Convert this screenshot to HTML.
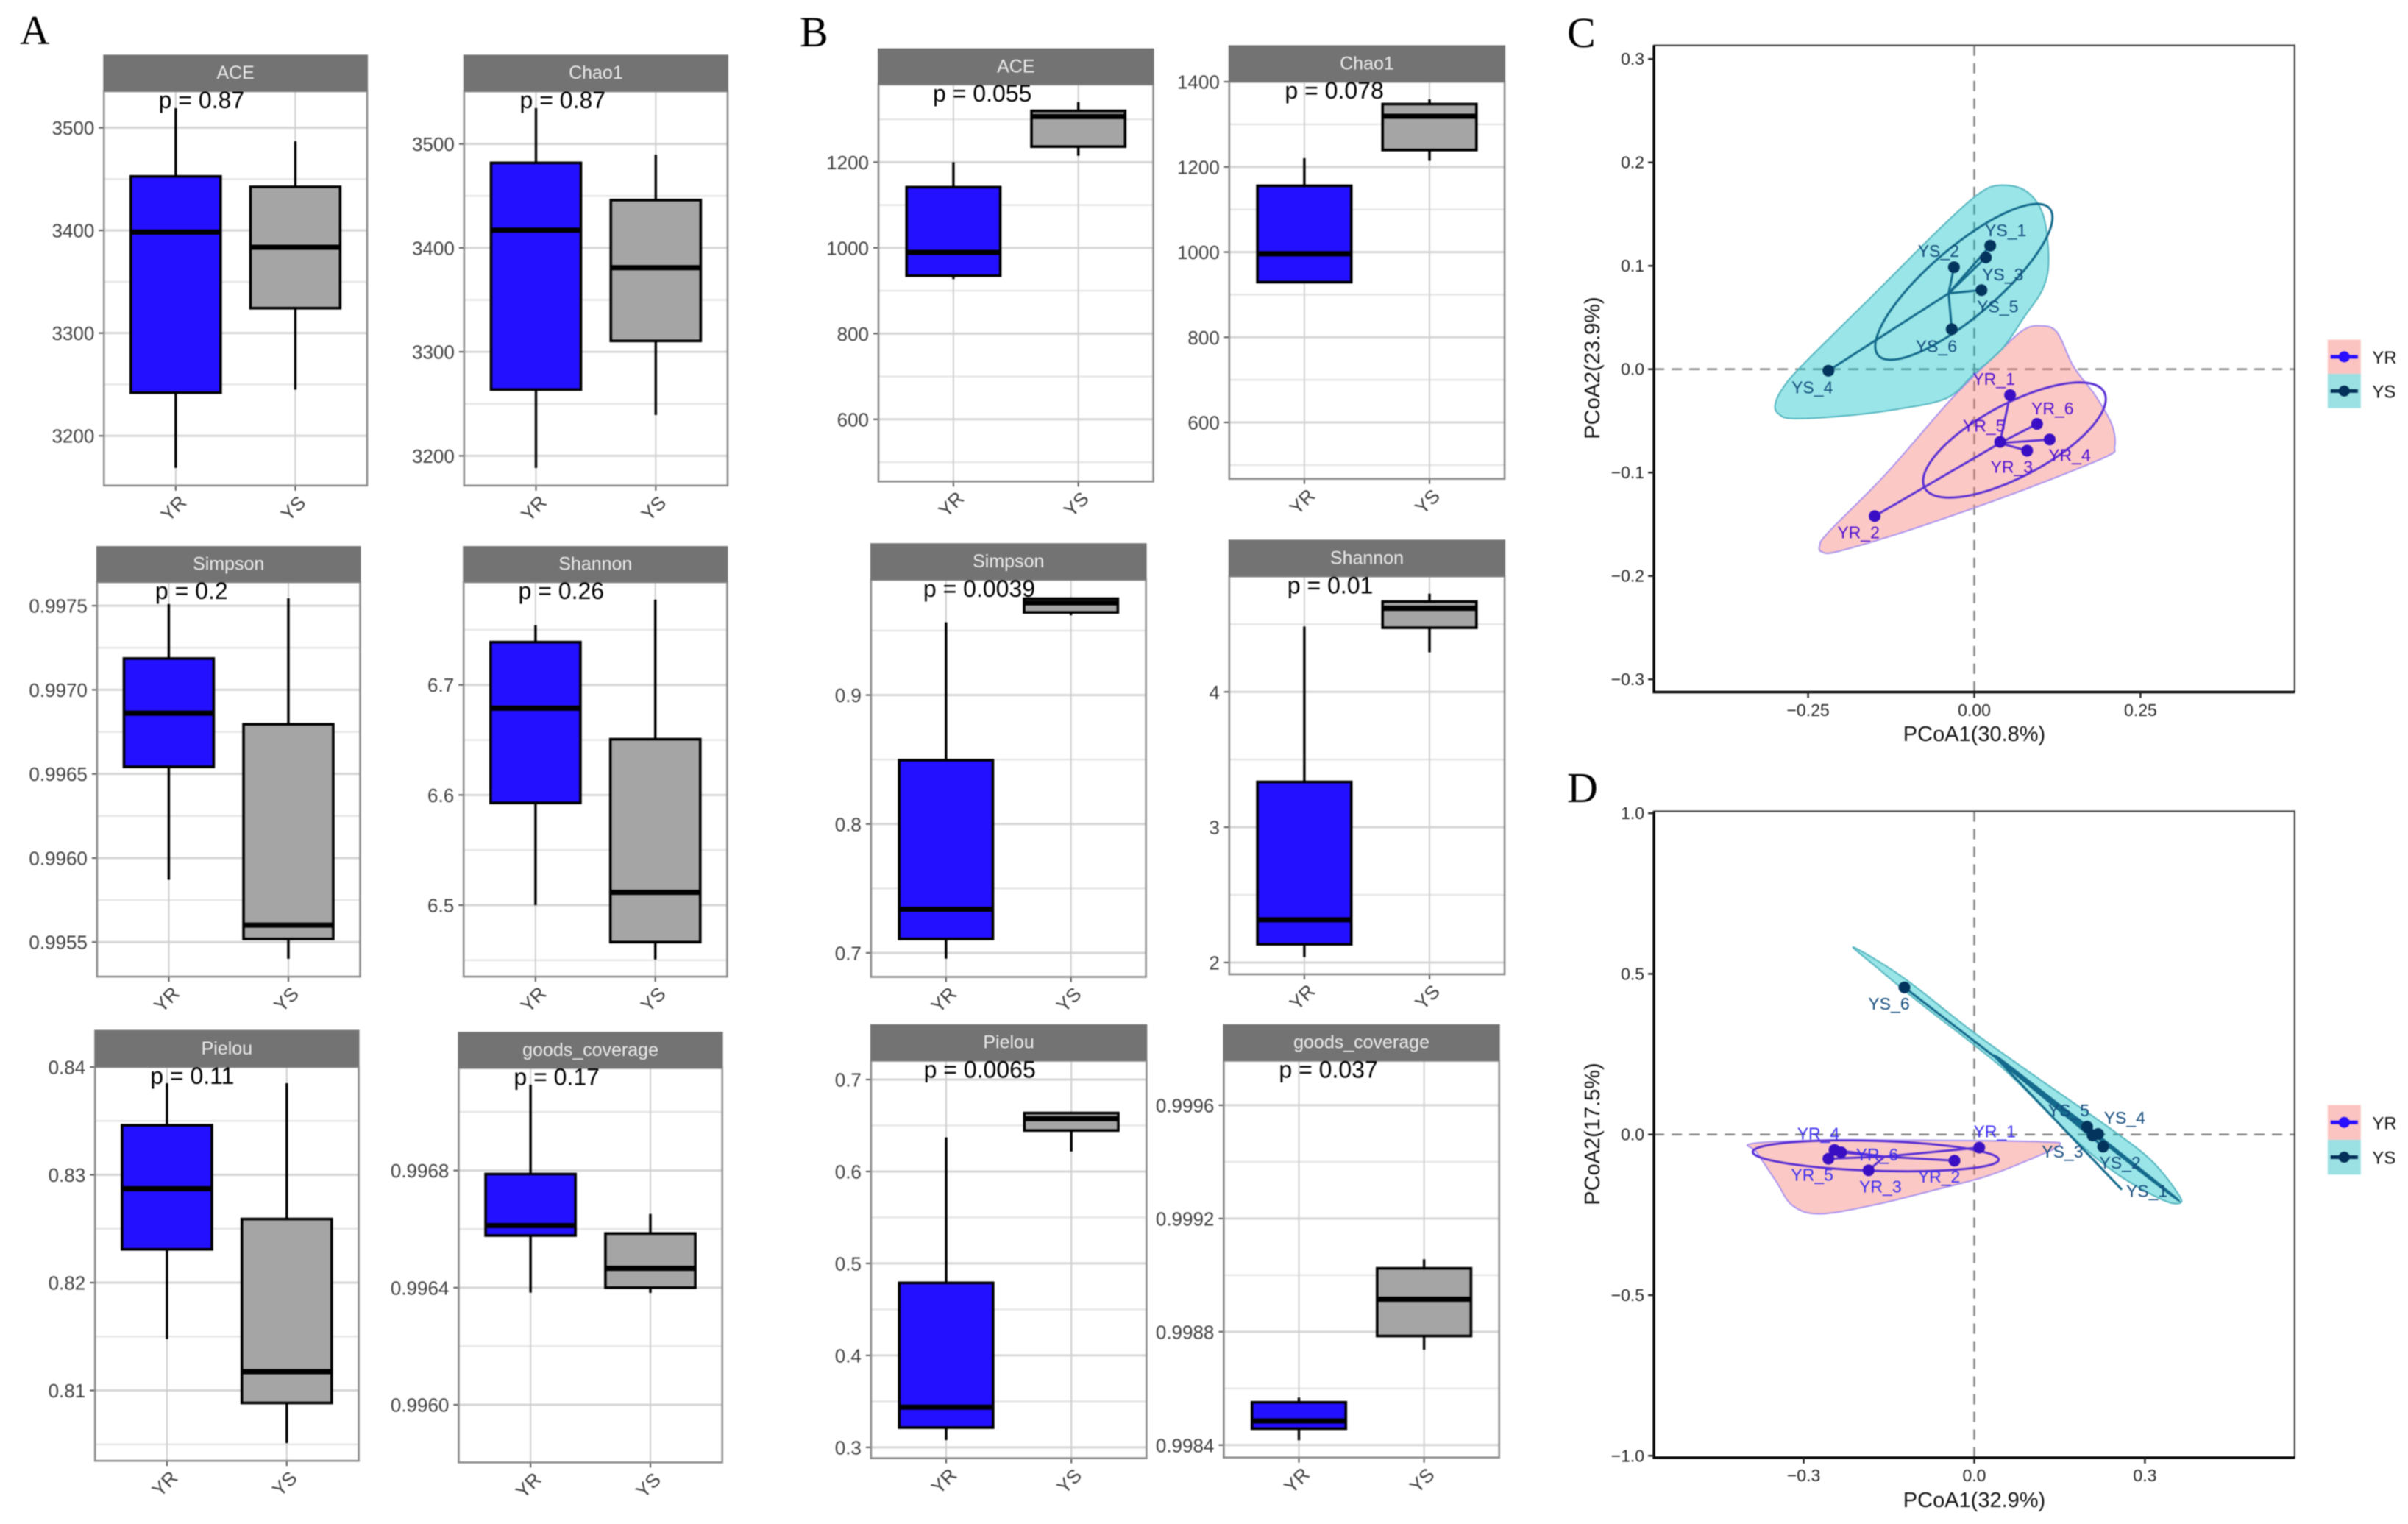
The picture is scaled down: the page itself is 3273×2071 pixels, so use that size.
<!DOCTYPE html>
<html lang="en">
<head>
<meta charset="utf-8">
<title>Alpha diversity boxplots and PCoA ordinations</title>
<style>
html,body{margin:0;padding:0;background:#fff;}
#figure{display:block;width:3273px;height:2071px;font-family:"Liberation Sans",sans-serif;filter:blur(0.7px);}
</style>
</head>
<body>
<svg id="figure" xmlns="http://www.w3.org/2000/svg" width="3273" height="2071" viewBox="0 0 3273 2071">
  <rect x="0" y="0" width="3273" height="2071" fill="#ffffff"/>
  <text x="27" y="60" font-family="'Liberation Serif',serif" font-size="56" fill="#000">A</text>
  <text x="1087" y="63" font-family="'Liberation Serif',serif" font-size="58" fill="#000">B</text>
  <text x="2130" y="64" font-family="'Liberation Serif',serif" font-size="58" fill="#000">C</text>
  <text x="2130" y="1090" font-family="'Liberation Serif',serif" font-size="58" fill="#000">D</text>
</svg>
<script>
/* ---------- Boxplot data (12 facets: A then B; ACE, Chao1, Simpson, Shannon, Pielou, goods_coverage) ---------- */
const boxCategories = ['YR', 'YS'];
const metricNames = ['ACE','Chao1','Simpson','Shannon','Pielou','goods_coverage','ACE','Chao1','Simpson','Shannon','Pielou','goods_coverage'];
const pValues = ['0.87','0.87','0.2','0.26','0.11','0.17','0.055','0.078','0.0039','0.01','0.0065','0.037'];
const yrLow = [3168.8,3188.3,0.995871,6.5,0.81476,0.996383,927.2,929.4,0.69554,2.04,0.30787,0.998417];
const yrQ1 = [3242,3263.7,0.996542,6.5928,0.82309,0.996578,935.1,929.4,0.71089,2.1344,0.32147,0.998458];
const yrMedian = [3398.4,3417.1,0.996861,6.6788,0.82871,0.996612,989.5,996,0.73391,2.316,0.34365,0.998485];
const yrQ3 = [3452.6,3481.8,0.997186,6.7388,0.8346,0.996788,1141.7,1155.6,0.84951,3.3349,0.47889,0.998551];
const yrHigh = [3519,3534.5,0.99751,6.7542,0.8385,0.997093,1200,1220.6,0.95644,4.4835,0.63703,0.998568];
const ysLow = [3245,3239.3,0.995401,6.4507,0.80512,0.996382,1215,1214.3,0.96188,4.2925,0.62165,0.998737];
const ysQ1 = [3324.3,3310.5,0.995519,6.4664,0.80884,0.9964,1236.3,1239.7,0.96411,4.4741,0.64454,0.998785];
const ysMedian = [3383.6,3381,0.995601,6.5116,0.81174,0.996466,1306.4,1319,0.97153,4.6179,0.65742,0.998915];
const ysQ3 = [3442.4,3446,0.996795,6.6507,0.8259,0.996585,1319.8,1347.6,0.97475,4.6675,0.66351,0.999024];
const ysHigh = [3486.8,3489.6,0.997544,6.7774,0.8385,0.996652,1340.3,1358.7,0.97574,4.7264,0.66386,0.999056];
const yDomainLow = [3151.6,3171.4,0.995295,6.4351,0.80347,0.995803,454.9,467.5,0.68144,1.9127,0.2882,0.998356];
const yDomainHigh = [3535.5,3550.7,0.99764,6.7933,0.84,0.99715,1381.3,1400,0.98936,4.8538,0.7204,0.999757];
const yTickLabels = [
  ['3200','3300','3400','3500'],
  ['3200','3300','3400','3500'],
  ['0.9955','0.9960','0.9965','0.9970','0.9975'],
  ['6.5','6.6','6.7'],
  ['0.81','0.82','0.83','0.84'],
  ['0.9960','0.9964','0.9968'],
  ['600','800','1000','1200'],
  ['600','800','1000','1200','1400'],
  ['0.7','0.8','0.9'],
  ['2','3','4'],
  ['0.3','0.4','0.5','0.6','0.7'],
  ['0.9984','0.9988','0.9992','0.9996']
];

/* ---------- PCoA C data ---------- */
const cYrNames = ['YR_1','YR_2','YR_3','YR_4','YR_5','YR_6'];
const cYrX = [0.0538,-0.1498,0.0795,0.1134,0.0389,0.0944];
const cYrY = [-0.025,-0.1421,-0.0788,-0.068,-0.0703,-0.0529];
const cYsNames = ['YS_1','YS_2','YS_3','YS_4','YS_5','YS_6'];
const cYsX = [0.024,-0.0306,0.0174,-0.2194,0.0108,-0.0339];
const cYsY = [0.1195,0.0987,0.1081,-0.0014,0.0765,0.0387];
const cYrCentroid = [0.0384,-0.0715];
const cYsCentroid = [-0.0386,0.0734];
const cYrEllipse = [0.0604,-0.0685,0.1374,0.0397,0,0.0391];
const cYsEllipse = [-0.0157,0.0845,0.1333,0.0623,0,0.0425];
const cYrHull = [[-0.2326,-0.1709],[-0.2194,-0.1577],[-0.1325,-0.101],[-0.0331,-0.0279],[0.0414,0.0194],[0.0745,0.0382],[0.0993,0.042],[0.1242,0.0359],[0.149,0.0028],[0.1821,-0.0255],[0.207,-0.0538],[0.2111,-0.0751],[0.1987,-0.0845],[0.0993,-0.1105],[0,-0.1341],[-0.1076,-0.1577],[-0.207,-0.1766],[-0.2293,-0.1766]];
const cYsHull = [[-0.2997,-0.0349],[-0.2881,-0.0184],[-0.2566,0.0052],[-0.149,0.0737],[-0.0497,0.1374],[0.0083,0.1704],[0.0414,0.178],[0.0786,0.1719],[0.1035,0.1492],[0.1118,0.1067],[0.1035,0.0784],[0.0745,0.05],[0.0414,0.0194],[0,-0.0042],[-0.0414,-0.0279],[-0.1159,-0.0387],[-0.1987,-0.0453],[-0.2732,-0.0477],[-0.2939,-0.0434]];
const cXTicks = [-0.25,0,0.25];
const cXTickLabels = ['\u22120.25','0.00','0.25'];
const cYTicks = [-0.3,-0.2,-0.1,0,0.1,0.2,0.3];
const cYTickLabels = ['\u22120.3','\u22120.2','\u22120.1','0.0','0.1','0.2','0.3'];

/* ---------- PCoA D data ---------- */
const dYrNames = ['YR_1','YR_2','YR_3','YR_4','YR_5','YR_6'];
const dYrX = [0.0087,-0.0348,-0.1858,-0.2458,-0.2565,-0.2342];
const dYrY = [-0.0407,-0.0813,-0.1114,-0.0482,-0.0753,-0.0557];
const dYsNames = ['YS_1','YS_2','YS_3','YS_4','YS_5','YS_6'];
const dYsX = [0.2594,0.2265,0.2081,0.2177,0.1984,-0.1229];
const dYsY = [-0.1717,-0.0377,-0.003,0.0015,0.0241,0.4578];
const dYsDotVisible = [0,1,1,1,1,1];
const dYrCentroid = [-0.158,-0.0688];
const dYsCentroid = [0.0387,0.238];
const dYrEllipse = [-0.1732,-0.0663,0.2163,-0.012,0,0.0467];
const dYsEllipse = [0.1984,0.0196,0.1597,-0.2229,-0.0077,0.0151];
const dYrHull = [[-0.3919,-0.0286],[-0.271,-0.0181],[-0.0774,-0.0181],[0.1161,-0.0226],[0.15,-0.0331],[0.0968,-0.0783],[0.0194,-0.131],[-0.0774,-0.1762],[-0.1742,-0.2184],[-0.271,-0.247],[-0.3194,-0.2214],[-0.3484,-0.1461],[-0.3823,-0.0557]];
const dYsHull = [[-0.2119,0.5828],[-0.1258,0.4895],[0,0.3163],[0.1161,0.1702],[0.2323,0.0271],[0.3097,-0.0783],[0.3581,-0.1837],[0.361,-0.2139],[0.329,-0.2018],[0.2516,-0.1235],[0.1742,-0.0105],[0.0677,0.1777],[0,0.2786],[-0.0968,0.4111],[-0.1742,0.5241]];
const dXTicks = [-0.3,0,0.3];
const dXTickLabels = ['\u22120.3','0.0','0.3'];
const dYTicks = [-1,-0.5,0,0.5,1];
const dYTickLabels = ['\u22121.0','\u22120.5','0.0','0.5','1.0'];

/* ---------- Layout (pixels, separate from the data) ---------- */
const boxLayouts = [
  {l:141.3,r:499,st:74.4,t:124,b:659.8,pdx:74.3,slug:'a-ace'},
  {l:630.8,r:989,st:74.4,t:124,b:659.8,pdx:75.7,slug:'a-chao1'},
  {l:131.9,r:489.5,st:742.1,t:791.1,b:1327.1,pdx:79,slug:'a-simpson'},
  {l:630.2,r:988.4,st:742.1,t:791.1,b:1327.1,pdx:74.3,slug:'a-shannon'},
  {l:129.2,r:487.5,st:1399.5,t:1450,b:1985.2,pdx:75,slug:'a-pielou'},
  {l:623.4,r:981.7,st:1402.2,t:1451.4,b:1987.4,pdx:75,slug:'a-goods-coverage'},
  {l:1194,r:1567.6,st:65.7,t:114.8,b:654.3,pdx:74,slug:'b-ace'},
  {l:1670.8,r:2045.1,st:61.5,t:111.1,b:650.7,pdx:75.6,slug:'b-chao1'},
  {l:1183.9,r:1557.6,st:738.2,t:788,b:1327.5,pdx:71,slug:'b-simpson'},
  {l:1670.8,r:2045.1,st:733.4,t:783.3,b:1324,pdx:79,slug:'b-shannon'},
  {l:1183.9,r:1558.3,st:1391.9,t:1441.5,b:1981.6,pdx:71.7,slug:'b-pielou'},
  {l:1663.4,r:2037.7,st:1391.9,t:1441.5,b:1980.7,pdx:75,slug:'b-goods-coverage'}
];
const SVGNS = 'http://www.w3.org/2000/svg';
const root = document.getElementById('figure');

function mk(tag, attrs, parent, text) {
  const el = document.createElementNS(SVGNS, tag);
  for (const k in attrs) el.setAttribute(k, attrs[k]);
  if (text !== undefined) el.textContent = text;
  parent.appendChild(el);
  return el;
}
function named(el, name) {
  
  
  return el;
}
function linear(d0, d1, r0, r1) {
  return function (v) { return r0 + (v - d0) / (d1 - d0) * (r1 - r0); };
}

/* ---------- Boxplot facets ---------- */
function drawBox(g, slug, cat, x, halfW, yOf, low, q1, med, q3, high, fill) {
  const whisker = mk('path', {d: 'M' + x + ' ' + yOf(high) + 'V' + yOf(q3) + 'M' + x + ' ' + yOf(q1) + 'V' + yOf(low), stroke: '#000', 'stroke-width': 3.4, fill: 'none'}, g);
  named(whisker, slug + '-' + cat + '-whisker');
  const box = mk('rect', {x: x - halfW, y: yOf(q3), width: 2 * halfW, height: yOf(q1) - yOf(q3), fill: fill, stroke: '#000', 'stroke-width': 3.6}, g);
  named(box, slug + '-' + cat + '-box');
  const median = mk('line', {x1: x - halfW, x2: x + halfW, y1: yOf(med), y2: yOf(med), stroke: '#000', 'stroke-width': 7}, g);
  named(median, slug + '-' + cat + '-median');
}

boxLayouts.forEach(function (p, i) {
  const g = mk('g', {}, root);
  named(g, p.slug + '-boxplot');
  const yOf = linear(yDomainLow[i], yDomainHigh[i], p.b, p.t);
  const xOf = linear(0.4, 2.6, p.l, p.r);
  const bg = mk('rect', {x: p.l, y: p.t, width: p.r - p.l, height: p.b - p.t, fill: '#fff'}, g);
  named(bg, p.slug + '-plot-background');

  const labels = yTickLabels[i];
  const vals = labels.map(Number);
  const step = vals[1] - vals[0];
  const minors = [vals[0] - step / 2];
  vals.forEach(function (v) { minors.push(v + step / 2); });
  minors.forEach(function (v) {
    if (v > yDomainLow[i] && v < yDomainHigh[i]) {
      const ln = mk('line', {x1: p.l, x2: p.r, y1: yOf(v), y2: yOf(v), stroke: '#e6e6e6', 'stroke-width': 2.4}, g);
      named(ln, p.slug + '-minor-gridline');
    }
  });
  vals.forEach(function (v, j) {
    const y = yOf(v);
    const ln = mk('line', {x1: p.l, x2: p.r, y1: y, y2: y, stroke: '#d6d6d6', 'stroke-width': 3}, g);
    named(ln, p.slug + '-major-gridline');
    const tk = mk('line', {x1: p.l - 7, x2: p.l, y1: y, y2: y, stroke: '#555', 'stroke-width': 2}, g);
    named(tk, p.slug + '-y-tick');
    const tl = mk('text', {x: p.l - 13, y: y + 9.5, 'text-anchor': 'end', 'font-size': 26, fill: '#404040'}, g, labels[j]);
    named(tl, p.slug + '-y-tick-label');
  });
  boxCategories.forEach(function (c, k) {
    const x = xOf(k + 1);
    const vl = mk('line', {x1: x, x2: x, y1: p.t, y2: p.b, stroke: '#cfcfcf', 'stroke-width': 2}, g);
    named(vl, p.slug + '-vertical-gridline');
    const tk = mk('line', {x1: x, x2: x, y1: p.b, y2: p.b + 7, stroke: '#555', 'stroke-width': 2}, g);
    named(tk, p.slug + '-x-tick');
    const cx = x - 3, cy = p.b + 31;
    const tl = mk('text', {x: cx, y: cy + 9, 'text-anchor': 'middle', 'font-size': 26, fill: '#404040', transform: 'rotate(-45 ' + cx + ' ' + cy + ')'}, g, c);
    named(tl, p.slug + '-x-tick-label');
  });

  const halfW = (p.r - p.l) * 0.75 / 2.2 / 2;
  drawBox(g, p.slug, 'yr', xOf(1), halfW, yOf, yrLow[i], yrQ1[i], yrMedian[i], yrQ3[i], yrHigh[i], '#2310ff');
  drawBox(g, p.slug, 'ys', xOf(2), halfW, yOf, ysLow[i], ysQ1[i], ysMedian[i], ysQ3[i], ysHigh[i], '#a5a5a5');

  const border = mk('rect', {x: p.l, y: p.t, width: p.r - p.l, height: p.b - p.t, fill: 'none', stroke: '#8c8c8c', 'stroke-width': 2.6}, g);
  named(border, p.slug + '-panel-border');
  const strip = mk('rect', {x: p.l - 1, y: p.st, width: p.r - p.l + 2, height: p.t - p.st, fill: '#737373'}, g);
  named(strip, p.slug + '-strip');
  const stripText = mk('text', {x: (p.l + p.r) / 2, y: (p.st + p.t) / 2 + 8, 'text-anchor': 'middle', 'font-size': 25, fill: '#ececec'}, g, metricNames[i]);
  named(stripText, p.slug + '-strip-label');
  const pLabel = mk('text', {x: p.l + p.pdx, y: p.t + 23, 'font-size': 32, fill: '#000'}, g, 'p = ' + pValues[i]);
  named(pLabel, p.slug + '-p-value');
});

/* ---------- PCoA panels ---------- */
function smoothClosed(pts) {
  const n = pts.length;
  let d = 'M' + pts[0][0] + ' ' + pts[0][1];
  for (let i = 0; i < n; i++) {
    const p0 = pts[(i - 1 + n) % n], p1 = pts[i], p2 = pts[(i + 1) % n], p3 = pts[(i + 2) % n];
    d += 'C' + (p1[0] + (p2[0] - p0[0]) / 6) + ' ' + (p1[1] + (p2[1] - p0[1]) / 6) + ' ' +
         (p2[0] - (p3[0] - p1[0]) / 6) + ' ' + (p2[1] - (p3[1] - p1[1]) / 6) + ' ' + p2[0] + ' ' + p2[1];
  }
  return d + 'Z';
}
function ellipsePath(e, xOf, yOf) {
  const pts = [];
  for (let a = 0; a < 96; a++) {
    const t = a / 96 * 2 * Math.PI;
    pts.push(xOf(e[0] + e[2] * Math.cos(t) + e[4] * Math.sin(t)) + ' ' + yOf(e[1] + e[3] * Math.cos(t) + e[5] * Math.sin(t)));
  }
  return 'M' + pts.join('L') + 'Z';
}
function drawGroup(g, slug, hull, ellipse, centroid, xs, ys, names, offsets, xOf, yOf, fill, hullStroke, lineColor, dotColor, textColor, dotVisible) {
  const hullEl = mk('path', {d: smoothClosed(hull.map(function (q) { return [xOf(q[0]), yOf(q[1])]; })), fill: fill, 'fill-opacity': 0.4, stroke: hullStroke, 'stroke-width': 2}, g);
  named(hullEl, slug + '-hull');
  return function () {
    const ell = mk('path', {d: ellipsePath(ellipse, xOf, yOf), fill: 'none', stroke: lineColor, 'stroke-width': 3}, g);
    named(ell, slug + '-ellipse');
    xs.forEach(function (v, i) {
      const seg = mk('line', {x1: xOf(centroid[0]), y1: yOf(centroid[1]), x2: xOf(v), y2: yOf(ys[i]), stroke: lineColor, 'stroke-width': 3}, g);
      named(seg, slug + '-spider-segment');
    });
    xs.forEach(function (v, i) {
      if (!dotVisible || dotVisible[i]) {
        const dot = mk('circle', {cx: xOf(v), cy: yOf(ys[i]), r: 8, fill: dotColor}, g);
        named(dot, slug + '-point');
      }
      const lab = mk('text', {x: xOf(v) + offsets[i][0], y: yOf(ys[i]) + offsets[i][1] + 8, 'text-anchor': 'middle', 'font-size': 23, fill: textColor}, g, names[i]);
      named(lab, slug + '-point-label');
    });
  };
}
function drawPcoa(cfg) {
  const g = mk('g', {}, root);
  named(g, cfg.slug + '-pcoa-plot');
  const xOf = linear(cfg.xMin, cfg.xMax, cfg.l, cfg.r);
  const yOf = linear(cfg.yMin, cfg.yMax, cfg.b, cfg.t);
  const hz = mk('line', {x1: cfg.l, x2: cfg.r, y1: yOf(0), y2: yOf(0), stroke: '#8a8a8a', 'stroke-width': 2.6, 'stroke-dasharray': '14 10'}, g);
  named(hz, cfg.slug + '-zero-line-horizontal');
  const vt = mk('line', {x1: xOf(0), x2: xOf(0), y1: cfg.t, y2: cfg.b, stroke: '#8a8a8a', 'stroke-width': 2.6, 'stroke-dasharray': '14 10'}, g);
  named(vt, cfg.slug + '-zero-line-vertical');

  const finishYr = drawGroup(g, cfg.slug + '-yr', cfg.yrHull, cfg.yrEllipse, cfg.yrCentroid, cfg.yrX, cfg.yrY, cfg.yrNames, cfg.yrOffsets, xOf, yOf, '#F8766D', '#ab92ee', '#5a30d4', '#3a0fc4', cfg.yrText, null);
  const finishYs = drawGroup(g, cfg.slug + '-ys', cfg.ysHull, cfg.ysEllipse, cfg.ysCentroid, cfg.ysX, cfg.ysY, cfg.ysNames, cfg.ysOffsets, xOf, yOf, '#00BFC4', '#55b5bf', '#146a8c', '#03345e', '#114a7c', cfg.ysDots);
  finishYr();
  finishYs();

  const border = mk('rect', {x: cfg.l, y: cfg.t, width: cfg.r - cfg.l, height: cfg.b - cfg.t, fill: 'none', stroke: '#444', 'stroke-width': 2.2}, g);
  named(border, cfg.slug + '-panel-border');
  const axes = mk('path', {d: 'M' + cfg.l + ' ' + cfg.t + 'V' + cfg.b + 'H' + cfg.r, fill: 'none', stroke: '#000', 'stroke-width': 3.4}, g);
  named(axes, cfg.slug + '-axis-lines');

  cfg.xTicks.forEach(function (v, i) {
    const tk = mk('line', {x1: xOf(v), x2: xOf(v), y1: cfg.b, y2: cfg.b + 8, stroke: '#222', 'stroke-width': 2.4}, g);
    named(tk, cfg.slug + '-x-tick');
    const tl = mk('text', {x: xOf(v), y: cfg.xLabY, 'text-anchor': 'middle', 'font-size': 23, fill: '#222'}, g, cfg.xLabels[i]);
    named(tl, cfg.slug + '-x-tick-label');
  });
  cfg.yTicks.forEach(function (v, i) {
    const tk = mk('line', {x1: cfg.l - 8, x2: cfg.l, y1: yOf(v), y2: yOf(v), stroke: '#222', 'stroke-width': 2.4}, g);
    named(tk, cfg.slug + '-y-tick');
    const tl = mk('text', {x: cfg.l - 13, y: yOf(v) + 8, 'text-anchor': 'end', 'font-size': 23, fill: '#222'}, g, cfg.yLabels[i]);
    named(tl, cfg.slug + '-y-tick-label');
  });
  const xt = mk('text', {x: (cfg.l + cfg.r) / 2, y: cfg.xTitleY, 'text-anchor': 'middle', 'font-size': 29, fill: '#111'}, g, cfg.xTitle);
  named(xt, cfg.slug + '-x-axis-title');
  const yy = cfg.yTitleCy;
  const yt = mk('text', {x: 2174, y: yy, 'text-anchor': 'middle', 'font-size': 29, fill: '#111', transform: 'rotate(-90 2174 ' + yy + ')'}, g, cfg.yTitle);
  named(yt, cfg.slug + '-y-axis-title');

  const lx = 3163.8, lw = 45;
  const keys = [
    {name: 'YR', fill: '#fcc4c0', line: '#2a10ff', y: cfg.legY},
    {name: 'YS', fill: '#9be0e2', line: '#05305a', y: cfg.legY + cfg.legH}
  ];
  keys.forEach(function (k) {
    const sw = mk('rect', {x: lx, y: k.y, width: lw, height: cfg.legH, fill: k.fill}, g);
    named(sw, cfg.slug + '-legend-swatch-' + k.name.toLowerCase());
    const ln = mk('line', {x1: lx + 4, x2: lx + lw - 4, y1: k.y + cfg.legH / 2, y2: k.y + cfg.legH / 2, stroke: k.line, 'stroke-width': 5}, g);
    named(ln, cfg.slug + '-legend-line-' + k.name.toLowerCase());
    const dt = mk('circle', {cx: lx + lw / 2, cy: k.y + cfg.legH / 2, r: 7.5, fill: k.line}, g);
    named(dt, cfg.slug + '-legend-dot-' + k.name.toLowerCase());
    const tx = mk('text', {x: 3224.4, y: k.y + cfg.legH / 2 + 9, 'font-size': 24, fill: '#111'}, g, k.name);
    named(tx, cfg.slug + '-legend-label-' + k.name.toLowerCase());
  });
}

drawPcoa({
  slug: 'c', l: 2248.1, r: 3118.9, t: 61.7, b: 940.5,
  xMin: -0.4818, xMax: 0.4818, yMin: -0.3123, yMax: 0.3132,
  yrHull: cYrHull, yrEllipse: cYrEllipse, yrCentroid: cYrCentroid, yrX: cYrX, yrY: cYrY, yrNames: cYrNames,
  ysHull: cYsHull, ysEllipse: cYsEllipse, ysCentroid: cYsCentroid, ysX: cYsX, ysY: cYsY, ysNames: cYsNames,
  yrOffsets: [[-22,-22],[-22,22],[-21,22],[27,21],[-22,-22],[21,-21]],
  ysOffsets: [[21,-21],[-21,-22],[23,23],[-22,23],[22,22],[-21,23]],
  yrText: '#4f10d0', ysDots: null,
  xTicks: cXTicks, xLabels: cXTickLabels, yTicks: cYTicks, yLabels: cYTickLabels,
  xLabY: 973, xTitle: 'PCoA1(30.8%)', xTitleY: 1007, yTitle: 'PCoA2(23.9%)', yTitleCy: 500,
  legY: 461.6, legH: 46.5
});
drawPcoa({
  slug: 'd', l: 2248.1, r: 3118.9, t: 1102.5, b: 1980.9,
  xMin: -0.5632, xMax: 0.5632, yMin: -1.006, yMax: 1.006,
  yrHull: dYrHull, yrEllipse: dYrEllipse, yrCentroid: dYrCentroid, yrX: dYrX, yrY: dYrY, yrNames: dYrNames,
  ysHull: dYsHull, ysEllipse: dYsEllipse, ysCentroid: dYsCentroid, ysX: dYsX, ysY: dYsY, ysNames: dYsNames,
  yrOffsets: [[21,-22],[-21,22],[16,22],[-22,-22],[-22,22],[49,3]],
  ysOffsets: [[34,2],[23,22],[-41,22],[36,-22],[-25,-22],[-21,22]],
  yrText: '#3a2cf0', ysDots: dYsDotVisible,
  xTicks: dXTicks, xLabels: dXTickLabels, yTicks: dYTicks, yLabels: dYTickLabels,
  xLabY: 2013, xTitle: 'PCoA1(32.9%)', xTitleY: 2048, yTitle: 'PCoA2(17.5%)', yTitleCy: 1541,
  legY: 1501.6, legH: 47.3
});
</script>
</body>
</html>
